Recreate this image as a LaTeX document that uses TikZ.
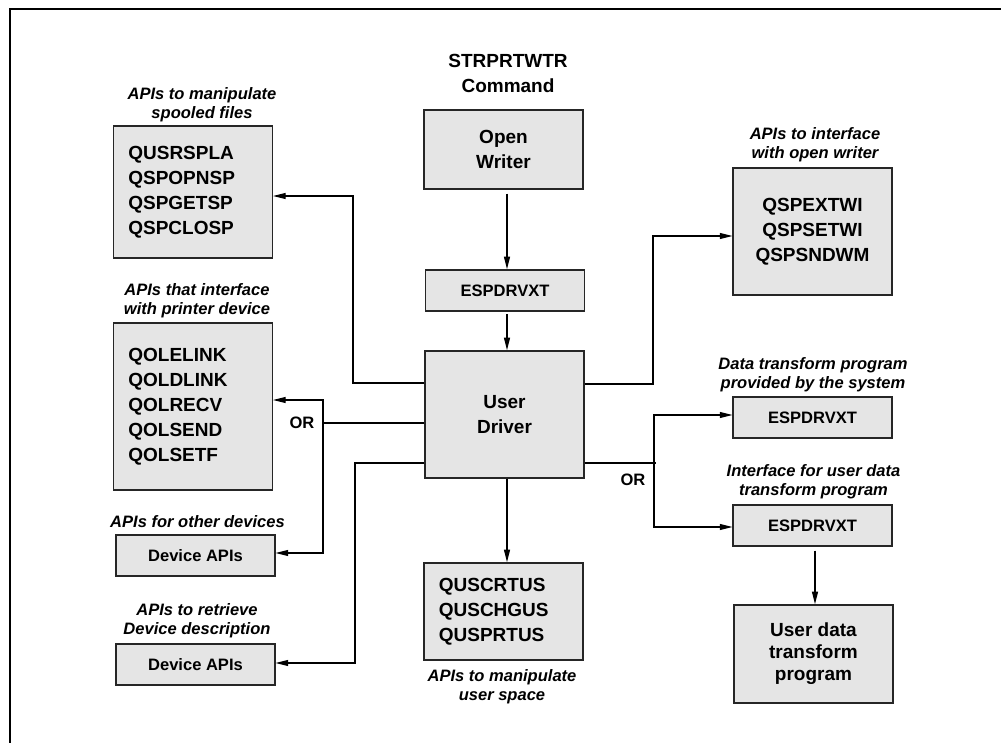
\documentclass[tikz,border=0pt]{standalone}
\usepackage{fontspec}
\setmainfont{Liberation Sans}
\usepackage{tikz}
\usetikzlibrary{arrows.meta}
\newcommand{\bigbf}{\fontsize{14.25pt}{18.75pt}\selectfont\bfseries}
\newcommand{\tightbf}{\fontsize{14.25pt}{16.5pt}\selectfont\bfseries}
\newcommand{\smallbf}{\fontsize{12.4pt}{15pt}\selectfont\bfseries}
\newcommand{\notefont}{\fontsize{12.4pt}{14.25pt}\selectfont\bfseries\itshape}

\begin{document}
\begin{tikzpicture}[
  x=0.75pt, y=-0.75pt,
  box/.style={draw=black!85, fill=gray!20, line width=1.1pt, minimum width=119pt, inner sep=0pt, font=\bigbf, align=center},
  listbox/.style={box, align=left, text width=97pt, inner xsep=11pt},
  smallbox/.style={box, font=\smallbf, minimum height=30.75pt},
  note/.style={font=\notefont, align=center},
  link/.style={line width=0.9pt},
  arr/.style={link, -{Triangle[length=9.5pt, width=4.5pt]}},
]
\useasboundingbox (0,0) rectangle (1001,743);

% Frame
\draw[line width=1.5pt] (10,743) -- (10,9) -- (1001,9);

% Middle column
\node[font=\bigbf, align=center] (cmd) at (508,73.5) {STRPRTWTR\\Command};
\node[box, minimum height=59.25pt] (open) at (503.5,149.5) {Open\\Writer};
\node[smallbox] (esp0) at (505,290.5) {ESPDRVXT};
\node[box, minimum height=95.25pt] (drv) at (504.5,414.5) {User\\Driver};
\node[listbox, minimum height=72.75pt] (usp) at (503.5,611.5) {QUSCRTUS\\QUSCHGUS\\QUSPRTUS};
\node[note] (uspnote) at (502,687) {APIs to manipulate\\user space};

% Left column
\node[listbox, minimum height=99pt] (spool) at (193,192) {QUSRSPLA\\QSPOPNSP\\QSPGETSP\\QSPCLOSP};
\node[note] (spoolnote) at (202,104.5) {APIs to manipulate\\spooled files};
\node[listbox, minimum height=125.25pt] (prn) at (193,406.5) {QOLELINK\\QOLDLINK\\QOLRECV\\QOLSEND\\QOLSETF};
\node[note] (prnnote) at (197,301) {APIs that interface\\with printer device};
\node[smallbox] (dev1) at (195.5,555.5) {Device APIs};
\node[note] (dev1note) at (197.5,522) {APIs for other devices};
\node[smallbox] (dev2) at (195.5,664.5) {Device APIs};
\node[note] (dev2note) at (197,620.5) {APIs to retrieve\\Device description};
\node[font=\smallbf] (orl) at (302,423) {OR};

% Right column
\node[box, minimum height=95.25pt] (wapi) at (812.5,231.5) {QSPEXTWI\\QSPSETWI\\QSPSNDWM};
\node[note] (wapinote) at (815,144.5) {APIs to interface\\with open writer};
\foreach \n/\y in {esp1/417.5, esp2/525.5} {
  \node[smallbox] (\n) at (812.5,\y) {ESPDRVXT};
}
\node[note] (esp1note) at (813,375) {Data transform program\\provided by the system};
\node[note] (esp2note) at (813.5,481.5) {Interface for user data\\transform program};
\node[box, minimum height=73.5pt, font=\tightbf] (udt) at (813.5,654) {User data\\transform\\program};
\node[font=\smallbf] (orr) at (633,480) {OR};

% Main flow
\draw[arr, shorten <=3pt] (open.south -| 507,0) -- (esp0.north -| 507,0);
\draw[arr, shorten <=2pt] (esp0.south -| 507,0) -- (drv.north -| 507,0);
\draw[arr] (drv.south -| 507,0) -- (usp.north -| 507,0);

% Left connectors
\coordinate (jsp) at (353,383);
\draw[arr] (drv.west |- jsp) -- (jsp) |- (spool.east |- 0,196);
\coordinate (jor) at (323,423);
\draw[link] (drv.west |- jor) -- (jor);
\draw[arr] (jor) |- (prn.east |- 0,400);
\draw[arr] (jor) |- (dev1.east |- 0,553);
\coordinate (jdv) at (355,463);
\draw[arr] (drv.west |- jdv) -- (jdv) |- (dev2.east |- 0,663);

% Right connectors
\coordinate (jwr) at (653,384);
\draw[arr] (drv.east |- jwr) -- (jwr) |- (wapi.west |- 0,236);
\coordinate (jes) at (654,463);
\draw[link] (drv.east |- jes) -- ([xshift=1.5pt]jes);
\draw[arr] (jes) |- (esp1.west |- 0,415);
\draw[arr] (jes) |- (esp2.west |- 0,527);
\draw[arr, shorten <=3pt] (esp2.south -| 815,0) -- (udt.north -| 815,0);
\end{tikzpicture}
\end{document}
